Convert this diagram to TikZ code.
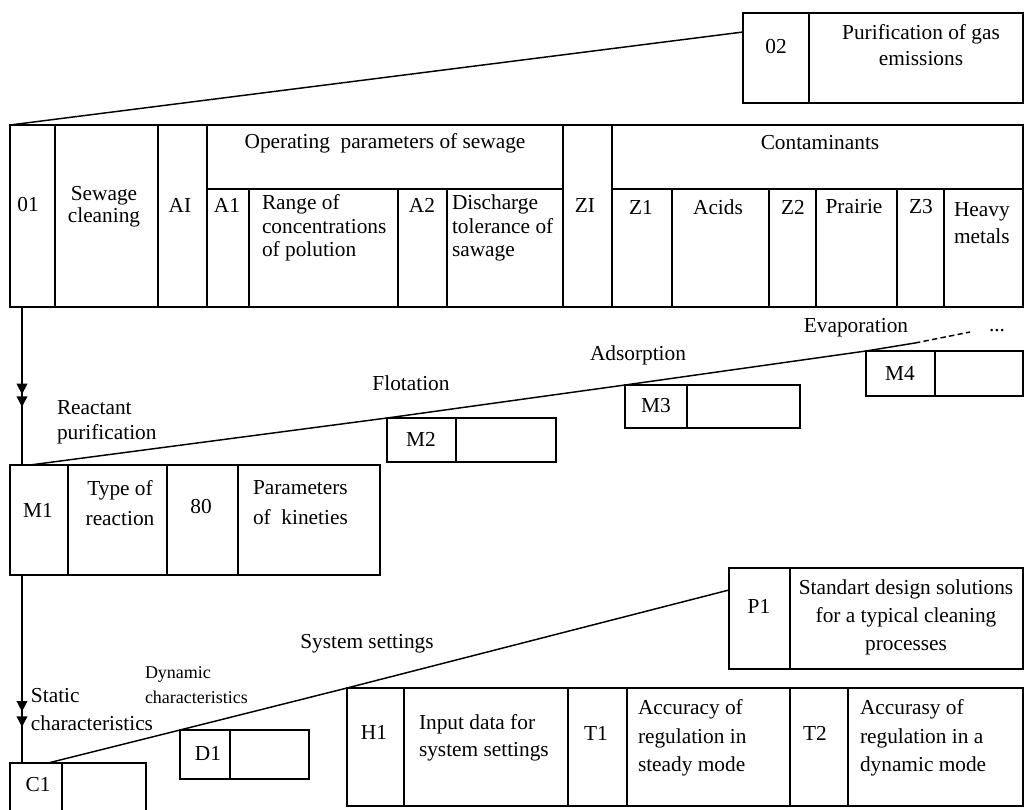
\documentclass[tikz,border=0pt]{standalone}
\usepackage{fontspec}
\setmainfont{Liberation Serif}
\usetikzlibrary{arrows.meta,calc}
\tikzset{
  cellsty/.style={draw=black, line width=1.1pt, inner sep=0pt, outer sep=0pt},
  lbl/.style={inner sep=0pt, outer sep=0pt, text=black, font=\fontsize{16}{17.5}\selectfont},
  conn/.style={draw=black, line width=1.1pt},
  dblA/.style={conn, -{Triangle[length=8pt,width=8pt,sep=1.5pt] Triangle[length=8pt,width=8pt]}},
  dblB/.style={conn, -{Triangle[length=8pt,width=8pt,sep=3.5pt] Triangle[length=8pt,width=8pt]}}
}
\newcommand{\cellbox}[5]{\node[cellsty, anchor=north west, minimum width={(#4-#2)*0.75pt}, minimum height={(#5-#3)*0.75pt}] (#1) at (#2,#3) {};}
\begin{document}
\begin{tikzpicture}[x=0.75pt,y=-0.75pt]
\useasboundingbox (0,0) rectangle (1025,810);
\clip (0,0) rectangle (1025,810);

% ---- box 02
\cellbox{b02}{743}{13}{809}{103}
\cellbox{bPur}{809}{13}{1023}{103}
\node[lbl] (x02) at (776,47) {02};
\node[lbl, align=center, font=\fontsize{16}{19.5}\selectfont] (xPur) at (921,45) {Purification of gas\\emissions};

% ---- main table
\cellbox{t01}{10}{125}{55}{307}
\cellbox{tSew}{55}{125}{158}{307}
\cellbox{tAI}{158}{125}{207}{307}
\cellbox{tOp}{207}{125}{563}{189}
\cellbox{tA1}{207}{189}{249}{307}
\cellbox{tRange}{249}{189}{398}{307}
\cellbox{tA2}{398}{189}{447}{307}
\cellbox{tDis}{447}{189}{563}{307}
\cellbox{tZI}{563}{125}{612}{307}
\cellbox{tCont}{612}{125}{1023}{189}
\cellbox{tZ1}{612}{189}{672}{307}
\cellbox{tAcids}{672}{189}{769}{307}
\cellbox{tZ2}{769}{189}{816}{307}
\cellbox{tPrairie}{816}{189}{897}{307}
\cellbox{tZ3}{897}{189}{944}{307}
\cellbox{tHeavy}{944}{189}{1023}{307}

\node[lbl] (x01) at (28,205) {01};
\node[lbl, align=center, font=\fontsize{16}{16.5}\selectfont] (xSew) at (104,207) {Sewage\\cleaning};
\node[lbl] (xAI) at (180,205) {AI};
\node[lbl] (xOp) at (385,143) {Operating\ \ parameters of sewage};
\node[lbl] (xA1) at (227,205) {A1};
\node[lbl, anchor=west, align=left] (xRange) at (262,228) {Range of\\concentrations\\of polution};
\node[lbl] (xA2) at (422,205) {A2};
\node[lbl, anchor=west, align=left] (xDis) at (452,228) {Discharge\\tolerance of\\sawage};
\node[lbl] (xZI) at (585,206) {ZI};
\node[lbl] (xCont) at (820,143) {Contaminants};
\node[lbl] (xZ1) at (641,207) {Z1};
\node[lbl] (xAcids) at (718,207) {Acids};
\node[lbl] (xZ2) at (793,207) {Z2};
\node[lbl] (xPrairie) at (854,207) {Prairie};
\node[lbl] (xZ3) at (921,207) {Z3};
\node[lbl, anchor=west, align=left, font=\fontsize{16}{20}\selectfont] (xHeavy) at (954,223) {Heavy\\metals};

% connector 02 -> table
\draw[conn] (t01.north west) -- ([yshift=-14.25pt]b02.north west);

% ---- M1
\cellbox{m1}{10}{465}{68}{575}
\cellbox{m1t}{68}{465}{167}{575}
\cellbox{m1e}{167}{465}{238}{575}
\cellbox{m1p}{238}{465}{380}{575}
\node[lbl] (xM1) at (38,510) {M1};
\node[lbl, align=center, font=\fontsize{16}{22.5}\selectfont] (xType) at (120,503) {Type of\\reaction};
\node[lbl] (x80) at (201,507) {80};
\node[lbl, anchor=west, align=left, font=\fontsize{16}{22.5}\selectfont] (xPar) at (253,503) {Parameters\\of\ \ kineties};

% ---- M2..M4
\cellbox{m2}{387}{418}{456}{462}
\cellbox{m2b}{456}{418}{556}{462}
\node[lbl] (xM2) at (421,439) {M2};
\cellbox{m3}{625}{385}{687}{428}
\cellbox{m3b}{687}{385}{800}{428}
\node[lbl] (xM3) at (656,406) {M3};
\cellbox{m4}{866}{351}{935}{396}
\cellbox{m4b}{935}{351}{1023}{396}
\node[lbl] (xM4) at (900,373) {M4};

\node[lbl] (xFlot) at (411,383) {Flotation};
\node[lbl] (xAds) at (638,355) {Adsorption};
\node[lbl] (xEvap) at (856,328) {Evaporation};
\node[lbl] (xDots) at (997,331) {...};
\node[lbl, anchor=west, align=left, font=\fontsize{16}{18.75}\selectfont] (xReact) at (57,422) {Reactant\\purification};

% arrow table -> M1
\coordinate (arrA) at ($(t01.south west)+(12,0)$);
\draw[conn] (arrA) -- ($(m1.north west)+(12,0)$);
\draw[dblA] (arrA) -- ++(0,100);

% line through M boxes
\draw[conn] ($(m1.north west)+(20,0)$) -- (m2.north west) -- (m3.north west) -- (m4.north west) -- ++(49,-8) coordinate (mEnd);
\draw[conn, dash pattern=on 4pt off 2.5pt] (mEnd) -- ++(55,-11);

% ---- C1, D1, H1 table, P1
\cellbox{c1}{10}{763}{62}{815}
\cellbox{c1b}{62}{763}{146}{815}
\node[lbl] (xC1) at (38,785) {C1};
\cellbox{d1}{180}{730}{230}{779}
\cellbox{d1b}{230}{730}{309}{779}
\node[lbl] (xD1) at (208,753) {D1};

\cellbox{h1}{347}{688}{404}{806}
\cellbox{hIn}{404}{688}{568}{806}
\cellbox{t1}{568}{688}{627}{806}
\cellbox{tAcc}{627}{688}{790}{806}
\cellbox{t2}{790}{688}{848}{806}
\cellbox{tAcc2}{848}{688}{1023}{806}
\node[lbl] (xH1) at (374,732) {H1};
\node[lbl, anchor=west, align=left, font=\fontsize{16}{20.25}\selectfont] (xIn) at (419,738) {Input data for\\system settings};
\node[lbl] (xT1) at (596,733) {T1};
\node[lbl, anchor=west, align=left, font=\fontsize{16}{21.5}\selectfont] (xAcc) at (638,738) {Accuracy of\\regulation in\\steady mode};
\node[lbl] (xT2) at (815,733) {T2};
\node[lbl, anchor=west, align=left, font=\fontsize{16}{21.5}\selectfont] (xAcc2) at (860,738) {Accurasy of\\regulation in a\\dynamic mode};

\cellbox{p1}{729}{568}{790}{669}
\cellbox{pStd}{790}{568}{1023}{669}
\node[lbl] (xP1) at (759,606) {P1};
\node[lbl, align=center, font=\fontsize{16}{21}\selectfont] (xStd) at (906,617) {Standart design solutions\\for a typical cleaning\\processes};

\node[lbl] (xSys) at (367,644) {System settings};
\node[lbl, anchor=west, align=left, font=\fontsize{13.5}{18.75}\selectfont] (xDyn) at (145,685) {Dynamic\\characteristics};
\node[lbl, anchor=west, align=left, font=\fontsize{16}{21}\selectfont] (xStat) at (31,710) {Static\\characteristics};

% arrow M1 -> C1
\coordinate (arrB) at ($(m1.south west)+(12,0)$);
\draw[conn] (arrB) -- ($(c1.north west)+(12,0)$);
\draw[dblB] (arrB) -- ++(0,152);

% line C1 -> D1 -> H1 -> P1
\draw[conn] ($(c1.north west)+(38,0)$) -- (d1.north west) -- (h1.north west) -- ([yshift=-16.5pt]p1.north west);
\end{tikzpicture}
\end{document}
